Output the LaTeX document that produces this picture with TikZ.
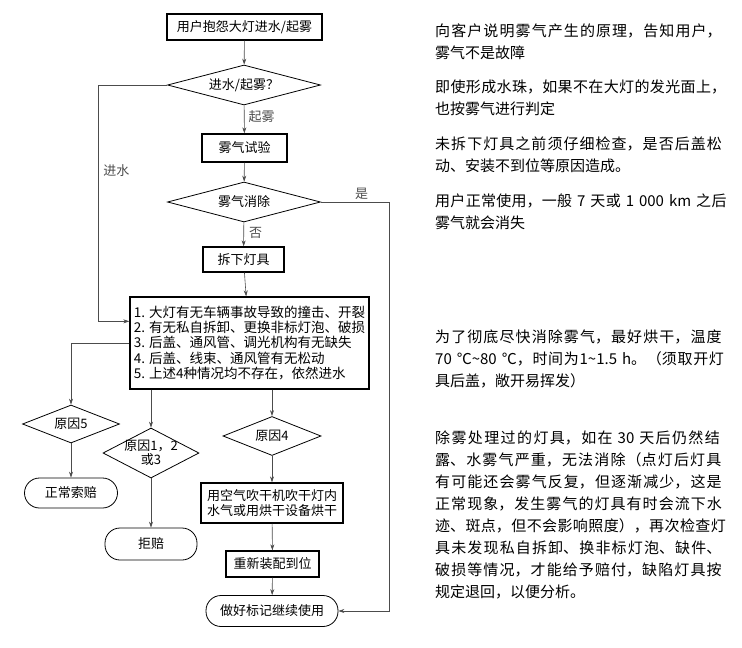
\documentclass[tikz,border=0pt]{standalone}
\usepackage{fontspec}
\setmainfont{Noto Sans CJK SC}
\usetikzlibrary{shapes,arrows.meta,positioning,calc}
\XeTeXlinebreaklocale "zh"
\XeTeXlinebreakskip=0pt plus 5pt
\tikzset{
  flow/.style={-{Stealth[length=6pt,width=4pt]}, draw, black!70, line width=0.6pt},
}
\newcommand{\tld}{\char"7E\relax}

\begin{document}
\begin{tikzpicture}[x=1pt,y=-1pt,
            box/.style={rectangle,draw=black,line width=1.3pt,inner sep=2pt,align=center,font=\fontsize{13}{15}\selectfont},
            decide/.style={diamond,draw=black,line width=0.8pt,inner sep=0pt,align=center,font=\fontsize{13}{14}\selectfont},
            term/.style={rectangle,rounded corners=15pt,draw=black,line width=0.8pt,font=\fontsize{13}{14}\selectfont},
            lbl/.style={inner sep=1pt,font=\fontsize{13}{14}\selectfont},
            note/.style={anchor=north west,inner sep=0pt,text width=293pt,font=\fontsize{15}{21.9}\selectfont}]
            \useasboundingbox (0,0) rectangle (742,648);

            % main column
            \node[box,minimum width=155pt,minimum height=26pt] (start) at (244.5,27) {用户抱怨大灯进水/起雾};
            \node[decide,minimum width=153pt,minimum height=40pt,aspect=3.5] (ask) at (244,85) {进水/起雾？};
            \node[box,minimum width=85pt,minimum height=28pt] (test) at (244.5,148) {雾气试验};
            \node[decide,minimum width=153pt,minimum height=40pt,aspect=3.5] (gone) at (244,202) {雾气消除};
            \node[box,minimum width=81pt,minimum height=25pt] (remove) at (243.5,259.5) {拆下灯具};
            \node[box,minimum width=239pt,minimum height=92pt,align=left,font=\fontsize{13.5}{15.2}\selectfont] (check) at (249.5,343)
            {1. 大灯有无车辆事故导致的撞击、开裂\\
             2. 有无私自拆卸、更换非标灯泡、破损\\
             3. 后盖、通风管、调光机构有无缺失\\
             4. 后盖、线束、通风管有无松动\\
             5. 上述4种情况均不存在，依然进水};

            % causes
            \node[decide,minimum width=97pt,minimum height=38pt,aspect=2.5] (cause5) at (71,424) {原因5};
            \node[decide,minimum width=96pt,minimum height=50pt,aspect=1.9,inner sep=-4pt] (cause123) at (151,453) {原因1，2\\或3};
            \node[decide,minimum width=98pt,minimum height=39pt,aspect=2.5] (cause4) at (272,436) {原因4};
            \node[term,minimum width=93pt,minimum height=30pt] (claim) at (71,493) {正常索赔};
            \node[term,minimum width=92pt,minimum height=32pt] (reject) at (151,544) {拒赔};
            \node[box,minimum width=142pt,minimum height=40pt] (dry) at (272,503) {用空气吹干机吹干灯内\\水气或用烘干设备烘干};
            \node[box,minimum width=93pt,minimum height=26pt] (refit) at (272.5,564) {重新装配到位};
            \node[term,minimum width=132pt,minimum height=31pt] (keep) at (272,611) {做好标记继续使用};

            \draw [flow] (start) -- (ask);
            \draw [flow] (ask) -- node[lbl,right=3pt,pos=0.41] (lblfog) {起雾} (test);
            \draw [flow] (test) -- (gone);
            \draw [flow] (gone) -- node[lbl,right=4pt,pos=0.44] (lblno) {否} (remove);
            \draw [flow] (remove) -- (check);
            \draw [flow] (ask.west) -- ++(-69,0) |- node[lbl,right=4pt,pos=0.18] (lblwater) {进水} ([yshift=-25pt]check.north west);
            \draw [flow] (gone.east) -- node[lbl,above=1pt,pos=0.6] (lblyes) {是} ++(68,0) |- (keep.east);
            \draw [flow] (check.west) -| (cause5.north);
            \draw [flow] (check.south -| cause123.north) -- (cause123.north);
            \draw [flow] (check.south -| cause4.north) -- (cause4.north);
            \draw [flow] (cause5) -- (claim);
            \draw [flow] (cause123) -- (reject);
            \draw [flow] (cause4) -- (dry);
            \draw [flow] (dry) -- (refit);
            \draw [flow] (refit) -- (keep);

            % notes on the right
            \node[note] (note1) at (435,24) {\noindent 向客户说明雾气产生的原理，告知用户，\linebreak 雾气不是故障};
            \node[note] (note2) at (435,80) {\noindent 即使形成水珠，如果不在大灯的发光面上，\linebreak 也按雾气进行判定};
            \node[note] (note3) at (435,137) {\noindent 未拆下灯具之前须仔细检查，是否后盖松\linebreak 动、安装不到位等原因造成。};
            \node[note] (note4) at (435,194) {\noindent 用户正常使用，一般 7 天或 1 000 km 之后\linebreak 雾气就会消失};
            \node[note] (note5) at (435,330) {\noindent 为了彻底尽快消除雾气，最好烘干，温度\linebreak 70 ℃\tld 80 ℃，时间为1\tld 1.5 h。（须取开灯\linebreak 具后盖，敞开易挥发）};
            \node[note] (note6) at (435,431) {\noindent 除雾处理过的灯具，如在 30 天后仍然结\linebreak 露、水雾气严重，无法消除（点灯后灯具\linebreak 有可能还会雾气反复，但逐渐减少，这是\linebreak 正常现象，发生雾气的灯具有时会流下水\linebreak 迹、斑点，但不会影响照度），再次检查灯\linebreak 具未发现私自拆卸、换非标灯泡、缺件、\linebreak 破损等情况，才能给予赔付，缺陷灯具按\linebreak 规定退回，以便分析。};
\end{tikzpicture}
\end{document}
